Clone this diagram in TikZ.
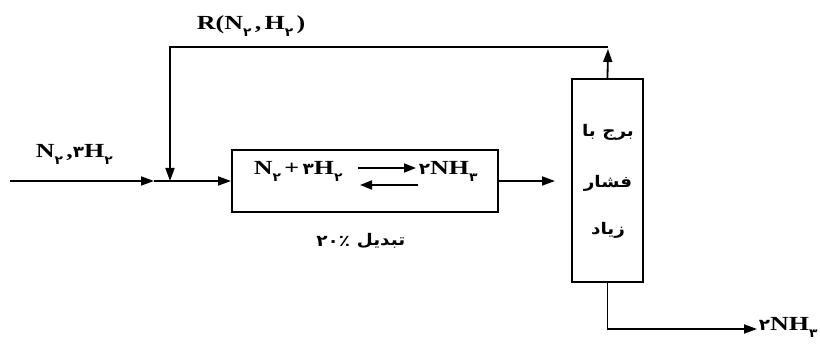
\documentclass[tikz,border=0pt]{standalone}
\usepackage{fontspec}
\setmainfont{Liberation Serif}[FakeStretch=1.3]
\newfontfamily\arabicfont[Script=Arabic,FakeStretch=1.15]{DejaVu Sans}
\TeXXeTstate=1
\usetikzlibrary{arrows.meta}
\newcommand{\psub}[1]{\raisebox{-7pt}{\fontsize{12}{12}\selectfont\arabicfont\bfseries #1}}
\newcommand{\pdig}[1]{{\fontsize{16}{16}\selectfont\arabicfont\bfseries #1}}
\begin{document}
\begin{tikzpicture}[x=1pt,y=-1pt, line width=1.8pt, line join=miter,
  flow/.style={-{Triangle[length=13pt,width=9pt]}},
  eqarr/.style={line width=1.8pt,-{Triangle[length=12pt,width=9pt]}},
  box/.style={draw, line width=2pt, inner sep=0pt},
  lat/.style={font=\fontsize{20}{22}\selectfont\bfseries, inner sep=0pt},
  per/.style={font=\fontsize{16}{18}\selectfont\arabicfont\bfseries, inner sep=0pt}]
\useasboundingbox (0,0) rectangle (820,347);

% boxes
\node[box, minimum width=266pt, minimum height=62pt] (reactor) at (365,181) {};
\node[box, minimum width=71pt, minimum height=203pt] (tower) at (607.5,180.5) {};

% reactor contents
\node[lat, anchor=base west] (lhs) at (253,175) {N\psub{۲}\,+\,\pdig{۳}H\psub{۲}};
\node[lat, anchor=base west] (rhs) at (418,175) {\pdig{۲}NH\psub{۳}};
\coordinate (ua) at (358,168);
\coordinate (ub) at (416,168);
\coordinate (la) at (360,185);
\coordinate (lb) at (418,185);
\draw[eqarr] (ua) -- (ub);
\draw[eqarr] (lb) -- (la);

% tower text
\node[per] (t1) at (608,132) {\beginR برج با\endR};
\node[per] (t2) at (608,183) {\beginR فشار\endR};
\node[per] (t3) at (608,230) {\beginR زیاد\endR};

% labels
\node[lat, anchor=base west] (feed) at (35,158) {N\psub{۲}\,,\pdig{۳}H\psub{۲}};
\node[lat, anchor=base west] (rec) at (196,30) {R(N\psub{۲}\,,\,H\psub{۲}\,)};
\node[lat, anchor=base west] (prod) at (758,331) {\pdig{۲}NH\psub{۳}};
\node[per, anchor=west] (conv) at (356,241) {\beginR تبدیل\endR};
\node[per, anchor=east] (convn) at (351,241) {۲۰٪};

% connectors
\coordinate (src) at (10,181);
\coordinate (j) at (154,181);
\coordinate (mix) at (170,181);
\coordinate (rtop) at (608,47);
\coordinate (out) at (757,329);
\draw[flow] (src) -- (j);
\draw[flow] (j) -- (reactor.west);
\draw[flow, shorten >=16pt] (reactor.east) -- (reactor.east -| tower.west);
\draw[flow, shorten >=2pt] (tower.north) -- (rtop);
\draw[flow] (rtop) -| (mix);
\draw[flow] (tower.south) |- (out);
\end{tikzpicture}
\end{document}
